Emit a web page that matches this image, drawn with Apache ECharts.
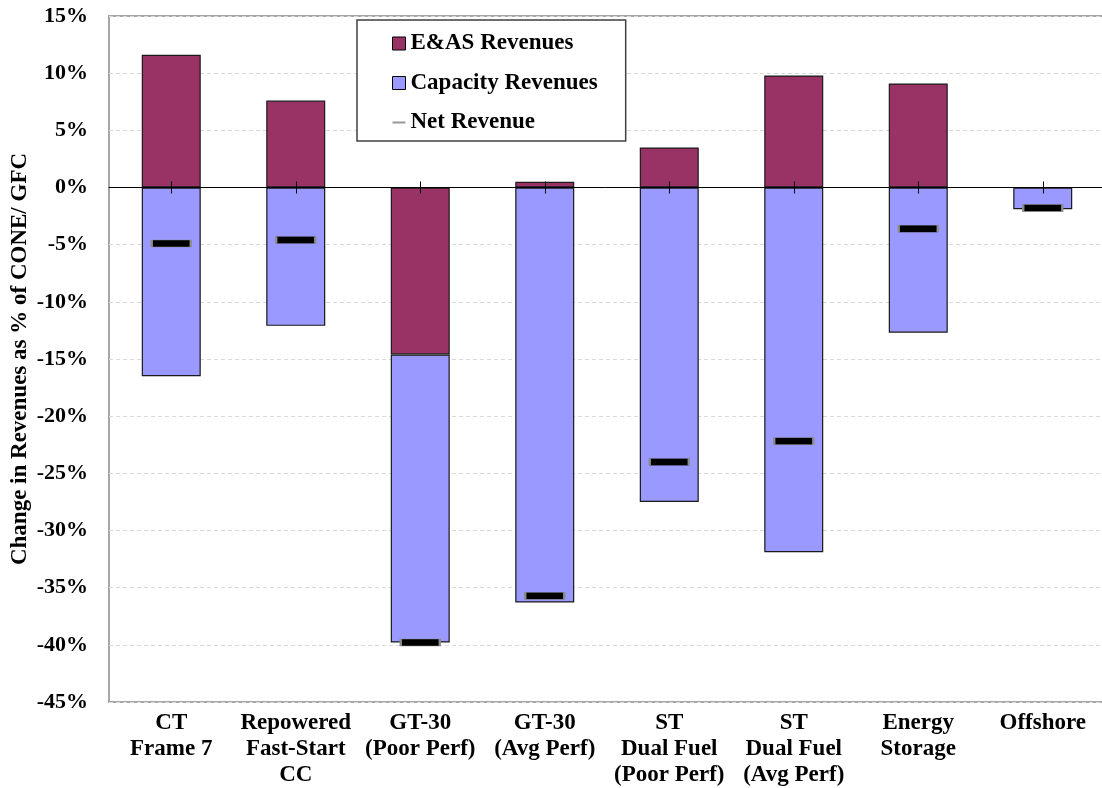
<!DOCTYPE html>
<html>
<head>
<meta charset="utf-8">
<script src="https://cdn.jsdelivr.net/npm/echarts@6/dist/echarts.min.js"></script>
<style>
html,body{margin:0;padding:0;background:#fff;}
#chart{width:1102px;height:788px;}
</style>
</head>
<body>
<div id="chart"></div>
<script>
const categories = ['CT\nFrame 7', 'Repowered\nFast-Start\nCC', 'GT-30\n(Poor Perf)', 'GT-30\n(Avg Perf)', 'ST\nDual Fuel\n(Poor Perf)', 'ST\nDual Fuel\n(Avg Perf)', 'Energy\nStorage', 'Offshore'];
const easRevenues = [11.6, 7.6, -14.6, 0.5, 3.5, 9.8, 9.1, 0];
const capacityRevenues = [-16.5, -12.1, -25.2, -36.3, -27.5, -31.9, -12.7, -1.9];
const netRevenue = [-4.9, -4.6, -39.8, -35.7, -24.0, -22.2, -3.6, -1.8];
const yTicks = {min: -45, max: 15, interval: 5};

const FONT = '"Liberation Serif", "Times New Roman", serif';
const chart = echarts.init(document.getElementById('chart'));
chart.setOption({
  animation: false,
  backgroundColor: '#fff',
  grid: {left: 109, top: 16, right: -3, bottom: 86, show: true, borderColor: '#a6a6a6', borderWidth: 2, containLabel: false, outerBoundsMode: 'none'},
  legend: {
    left: 357, top: 20, orient: 'vertical',
    padding: [12, 28, 7, 35],
    itemGap: 16.5, itemWidth: 13, itemHeight: 13,
    borderColor: '#404040', borderWidth: 1.5, backgroundColor: '#fff',
    textStyle: {fontFamily: FONT, fontWeight: 'bold', fontSize: 23, color: '#000', lineHeight: 20},
    data: [
      {name: 'E&AS Revenues', icon: 'rect', itemStyle: {borderColor: '#000', borderWidth: 1}},
      {name: 'Capacity Revenues', icon: 'rect', itemStyle: {borderColor: '#000', borderWidth: 1}},
      {name: 'Net Revenue', icon: 'path://M0,0 M0,5.5 L13,5.5 L13,7.5 L0,7.5 Z M13,13', itemStyle: {color: '#999', borderWidth: 0}}
    ]
  },
  xAxis: [
    {
      type: 'category', data: categories, position: 'bottom',
      axisLine: {show: false, onZero: false}, axisTick: {show: false},
      axisLabel: {fontFamily: FONT, fontWeight: 'bold', fontSize: 23, color: '#000', lineHeight: 26, margin: 8, interval: 0},
      splitLine: {show: false}
    },
    {
      type: 'category', data: categories, position: 'top', z: 10,
      axisLine: {show: true, onZero: true, onZeroAxisIndex: 0, lineStyle: {color: '#000', width: 1}},
      axisTick: {show: true, alignWithLabel: true, length: 6, inside: false, lineStyle: {color: '#000'}},
      axisLabel: {show: false}, splitLine: {show: false}
    },
    {
      type: 'category', data: categories, position: 'top', z: 10,
      axisLine: {show: false, onZero: true, onZeroAxisIndex: 0},
      axisTick: {show: true, alignWithLabel: true, length: 6, inside: true, lineStyle: {color: '#000'}},
      axisLabel: {show: false}, splitLine: {show: false}
    }
  ],
  yAxis: {
    type: 'value', min: yTicks.min, max: yTicks.max, interval: yTicks.interval,
    name: 'Change in Revenues as % of CONE/ GFC', nameLocation: 'middle', nameGap: 77, nameMoveOverlap: false,
    nameTextStyle: {fontFamily: FONT, fontWeight: 'bold', fontSize: 23, color: '#000'},
    axisLine: {show: false}, axisTick: {show: false},
    axisLabel: {formatter: '{value}%', fontFamily: FONT, fontWeight: 'bold', fontSize: 22, color: '#000', margin: 21},
    splitLine: {show: true, lineStyle: {color: '#d9d9d9', type: [4, 3], width: 1}}
  },
  series: [
    {
      name: 'E&AS Revenues', type: 'bar', stack: 'rev', data: easRevenues, barWidth: 59,
      itemStyle: {color: '#993366', borderColor: '#1a1a1a', borderWidth: 1.2}
    },
    {
      name: 'Capacity Revenues', type: 'bar', stack: 'rev', data: capacityRevenues, barWidth: 59,
      itemStyle: {color: '#9999ff', borderColor: '#1a1a1a', borderWidth: 1.2}
    },
    {
      name: 'Net Revenue', type: 'scatter', data: netRevenue, z: 5,
      symbol: 'rect', symbolSize: [39, 7],
      itemStyle: {color: '#000', borderColor: '#8c8c8c', borderWidth: 1, opacity: 1}
    }
  ]
});
</script>
</body>
</html>
